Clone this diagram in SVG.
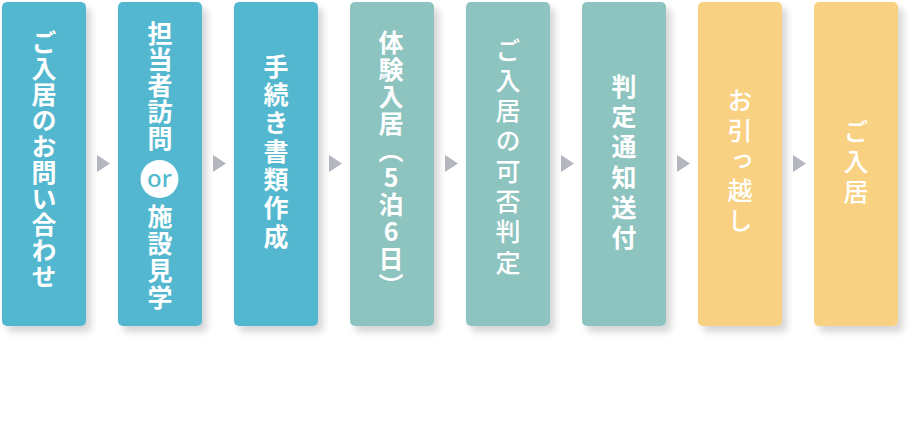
<svg xmlns="http://www.w3.org/2000/svg" width="920" height="438" viewBox="0 0 920 438">
<defs>
<filter id="sh" x="-20%" y="-10%" width="150%" height="130%">
<feDropShadow dx="5" dy="6" stdDeviation="3.5" flood-color="#000" flood-opacity="0.16"/>
</filter>
</defs>
<style>
.box{filter:url(#sh)}
.b{fill:#52b8cf}
.t{fill:#8ec4bf}
.y{fill:#f9d183}
.tx{font-family:"Noto Sans CJK JP","Noto Sans",sans-serif;font-size:25px;fill:#fff;writing-mode:vertical-rl;text-orientation:upright;text-anchor:start}
.bd{font-weight:700}
.md{font-weight:500}
.arr{fill:#b3b6bf}
.or{font-family:"Noto Sans","Open Sans",sans-serif;font-size:24px;font-weight:500;fill:#52b8cf;text-anchor:middle;dominant-baseline:central}
</style>
<rect width="920" height="438" fill="#fff"/>
<g id="connectors">
<polygon class="arr" points="97,155 110,163.5 97,172"/>
<polygon class="arr" points="213,155 226,163.5 213,172"/>
<polygon class="arr" points="329,155 342,163.5 329,172"/>
<polygon class="arr" points="445,155 458,163.5 445,172"/>
<polygon class="arr" points="561,155 574,163.5 561,172"/>
<polygon class="arr" points="677,155 690,163.5 677,172"/>
<polygon class="arr" points="793,155 806,163.5 793,172"/>
</g>
<g id="n1">
<rect class="box b" x="2" y="2" width="84" height="324" rx="5"/>
<text class="tx bd" x="44" y="29.5" letter-spacing="1">ご入居のお問い合わせ</text>
</g>
<g id="n2">
<rect class="box b" x="118" y="2" width="84" height="324" rx="5"/>
<text class="tx bd" x="160" y="20.5" letter-spacing="1.3">担当者訪問</text>
<circle cx="159.5" cy="179" r="19" fill="#fff"/>
<text class="or" x="159.5" y="177.5">or</text>
<text class="tx bd" x="160" y="203.5" letter-spacing="2">施設見学</text>
</g>
<g id="n3">
<rect class="box b" x="234" y="2" width="84" height="324" rx="5"/>
<text class="tx bd" x="276" y="53.5" letter-spacing="3.4">手続き書類作成</text>
</g>
<g id="n4">
<rect class="box t" x="350" y="2" width="84" height="324" rx="5"/>
<text class="tx bd" x="391" y="29.5" letter-spacing="2">体験入居（5泊6日）</text>
</g>
<g id="n5">
<rect class="box t" x="466" y="2" width="84" height="324" rx="5"/>
<text class="tx md" x="508" y="37.5" letter-spacing="5.3">ご入居の可否判定</text>
</g>
<g id="n6">
<rect class="box t" x="582" y="2" width="84" height="324" rx="5"/>
<text class="tx bd" x="624" y="73.5" letter-spacing="5.4">判定通知送付</text>
</g>
<g id="n7">
<rect class="box y" x="698" y="2" width="84" height="324" rx="5"/>
<text class="tx md" x="740" y="87.5" letter-spacing="5">お引っ越し</text>
</g>
<g id="n8">
<rect class="box y" x="814" y="2" width="84" height="324" rx="5"/>
<text class="tx md" x="856" y="118.5" letter-spacing="5">ご入居</text>
</g>
</svg>
